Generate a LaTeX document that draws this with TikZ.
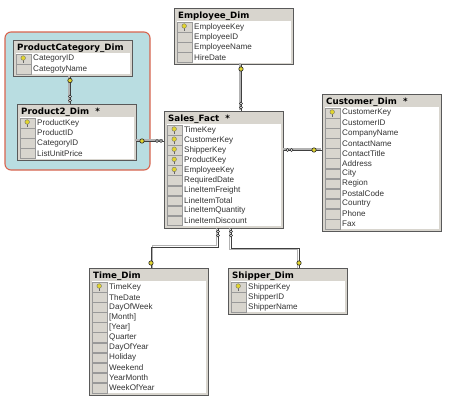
\documentclass[tikz,border=0pt]{standalone}
\usepackage{fontspec}
\setmainfont{Liberation Sans}
\newfontfamily\titlefont{DejaVu Sans}
\usetikzlibrary{arrows.meta, positioning, calc}
\definecolor{mPanel}{HTML}{B9DDE1}
\definecolor{mPanelEdge}{HTML}{D8644E}
\definecolor{mGrey}{HTML}{D8D5CE}
\definecolor{mKey}{HTML}{E2D52E}
\tikzset{
  tablebox/.style={draw=black!65, line width=1pt, fill=mGrey, anchor=north west, inner sep=0pt, minimum width=119pt},
  bodybox/.style={fill=white, anchor=north west, inner sep=0pt},
  rowbtn/.style={draw=black!40, line width=0.5pt, fill=mGrey, anchor=west, inner sep=0pt, minimum width=15.5pt, minimum height=9.6pt},
  fieldtext/.style={anchor=west, inner sep=0pt, text=black!80, font=\fontsize{8.1}{9}\selectfont},
  titletext/.style={anchor=west, inner sep=0pt, font=\titlefont\bfseries\fontsize{8.7}{9}\selectfont},
  bulb/.style={circle, draw=black!55, line width=0.4pt, fill=mKey, inner sep=0pt, minimum size=4.6pt},
  keytip/.style={circle, draw=black!85, line width=0.6pt, fill=mKey, inner sep=0pt, minimum size=4.4pt},
  ringtip/.style={circle, draw=black!85, line width=0.6pt, fill=white, inner sep=0pt, minimum size=3pt},
  relback/.style={draw=black!30, line width=1.4pt, line join=miter},
  relline/.style={draw=black!75, line width=0.9pt, line join=miter},
}
% name, x, y, title, number of keys, number of fields, fields
\newcommand{\dimtable}[7]{
  \pgfmathsetmacro{\tabh}{19+(#6-1)*10.1+7}
  \node[tablebox, minimum height=\tabh pt] (#1) at (#2,#3) {};
  \node[bodybox, minimum width=114pt, minimum height=\tabh pt-15pt] (#1body) at (#2+3,#3+13) {};
  \node[titletext] (#1title) at (#2+4,#3+8) {#4};
  \foreach \f [count=\i] in {#7} {
    \pgfmathsetmacro{\rowy}{#3+19+(\i-1)*10.1}
    \node[rowbtn] (#1btn\i) at (#2+2.5,\rowy) {};
    \node[fieldtext] (#1row\i) at (#2+20,\rowy) {\f};
    \ifnum\i>#5\else
      \draw[draw=black!60, line width=0.8pt] (#2+10.2,\rowy) -- (#2+10.2,\rowy+3.6);
      \node[bulb] (#1key\i) at (#2+10.2,\rowy-1) {};
    \fi
  }
}
\begin{document}
\begin{tikzpicture}[x=1pt, y=-1pt]
    \useasboundingbox (0,0) rectangle (449,402);
    \draw[draw=mPanelEdge, fill=mPanel, line width=1.1pt, rounded corners=6pt] (5,32) rectangle (150,170);

    \dimtable{category}{13}{40}{ProductCategory\_Dim}{1}{2}{CategoryID, CategotyName}
    \dimtable{product}{17}{104}{Product2\_Dim \ *}{1}{4}{ProductKey, ProductID, CategoryID, ListUnitPrice}
    \dimtable{employee}{174}{8}{Employee\_Dim}{1}{4}{EmployeeKey, EmployeeID, EmployeeName, HireDate}
    \dimtable{sales}{164}{111}{Sales\_Fact \ *}{5}{10}{TimeKey, CustomerKey, ShipperKey, ProductKey, EmployeeKey, RequiredDate, LineItemFreight, LineItemTotal, LineItemQuantity, LineItemDiscount}
    \dimtable{customer}{322}{94}{Customer\_Dim \ *}{1}{12}{CustomerKey, CustomerID, CompanyName, ContactName, ContactTitle, Address, City, Region, PostalCode, Country, Phone, Fax}
    \dimtable{time}{89}{268}{Time\_Dim}{1}{11}{TimeKey, TheDate, DayOfWeek, {[Month]}, {[Year]}, Quarter, DayOfYear, Holiday, Weekend, YearMonth, WeekOfYear}
    \dimtable{shipper}{228}{268}{Shipper\_Dim}{1}{3}{ShipperKey, ShipperID, ShipperName}

    % connector ends on the table edges
    \coordinate (catEnd) at (70,77);
    \coordinate (prodTop) at (70,104);
    \coordinate (prodEnd) at (136,141);
    \coordinate (salesLeft) at (164,141);
    \coordinate (empEnd) at (241,64);
    \coordinate (salesTop) at (241,111);
    \coordinate (salesRight) at (284,150);
    \coordinate (custEnd) at (322,150);
    \coordinate (salesTime) at (218,228);
    \coordinate (timeEnd) at (151,268);
    \coordinate (salesShip) at (231,228);
    \coordinate (shipEnd) at (299,268);

    \foreach \a/\b in {catEnd/prodTop, prodEnd/salesLeft, empEnd/salesTop, salesRight/custEnd} {
      \draw[relback, transform canvas={xshift=-1pt, yshift=1pt}] (\a) -- (\b);
      \draw[relline] (\a) -- (\b);
    }
    \draw[relback] (216.5,228) |- (152.5,245.5) -- (152.5,268);
    \draw[relline] (salesTime) |- (timeEnd |- 0,247) -- (timeEnd);
    \draw[relback] (229.5,228) |- (297.5,249.5) -- (297.5,268);
    \draw[relline] (salesShip) |- (shipEnd |- 0,248) -- (shipEnd);

    % key ends
    \node[keytip] (catKey) at (70,80.5) {};
    \node[keytip] (empKey) at (241,69) {};
    \node[keytip] (prodKey) at (142,141) {};
    \node[keytip] (custKey) at (314,150) {};
    \node[keytip] (timeKey) at (151,263) {};
    \node[keytip] (shipKey) at (299,263) {};

    % many ends
    \foreach \x/\y [count=\i] in {70/96.5, 70/100.5, 241/103.5, 241/107.5, 218/231.5, 218/235.5, 231/231.5, 231/235.5, 157/141, 161/141, 287.5/150, 291.5/150} {
      \node[ringtip] (ring\i) at (\x,\y) {};
    }
\end{tikzpicture}
\end{document}
